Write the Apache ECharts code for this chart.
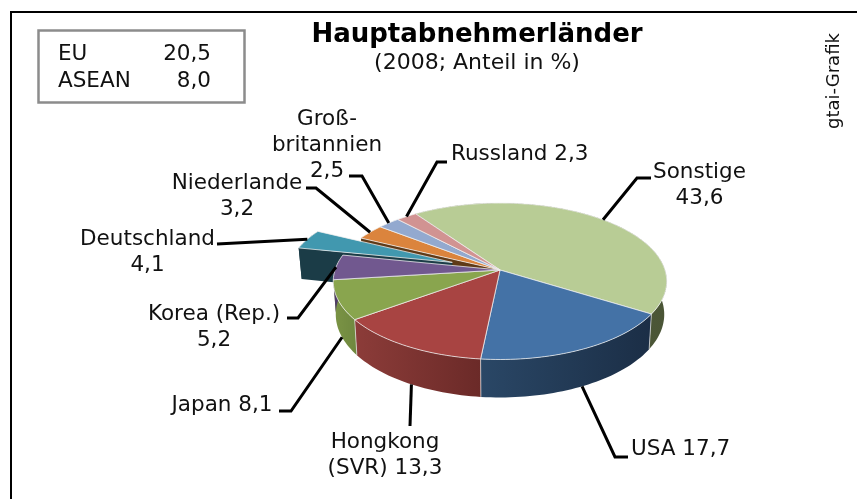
<!DOCTYPE html>
<html>
<head>
<meta charset="utf-8">
<title>Hauptabnehmerländer</title>
<script src="https://cdn.jsdelivr.net/npm/echarts@6/dist/echarts.min.js"></script>
<style>
  html, body { margin: 0; padding: 0; background: #fff; }
  #chart { width: 857px; height: 499px; }
</style>
</head>
<body>
<div id="chart"></div>
<script>
// data, clockwise from the top left
const categories = ['Sonstige', 'USA', 'Hongkong\n(SVR)', 'Japan', 'Korea (Rep.)', 'Deutschland', 'Niederlande', 'Groß-\nbritannien', 'Russland']
const shares = [43.6, 17.7, 13.3, 8.1, 5.2, 4.1, 3.2, 2.5, 2.3]
const blocNames = ['EU', 'ASEAN']
const blocShares = [20.5, 8.0]

// styles
const topColors = ['#b8cc95', '#4472a6', '#a84442', '#89a54e', '#71588f', '#4198af', '#db843d', '#93a9cf', '#d19392']
const wallColors = [
  ['#59643f', '#4a5536'], ['#2a4766', '#1b2e46'], ['#8c3c39', '#6b2a28'], ['#7b9445', '#6f883f'],
  ['#4f3d66', '#4f3d66'], ['#1b3c47', '#1b3c47'], ['#5f3a17', '#5f3a17'], ['#5b6b88', '#5b6b88'], ['#8a5f5e', '#8a5f5e']
]
const labelLayout = [
  { x: 699.5, y: 185, elbow: [637, 178], end: [651, 178], sep: '\n' },
  { x: 631, y: 449, align: 'left', elbow: [615, 457], end: [628, 457], sep: ' ', wall: true },
  { x: 385, y: 455, end: [410, 426], sep: ' ', wall: true, shift: -1.3 },
  { x: 222, y: 405, elbow: [291, 411], end: [279, 411], sep: ' ', wall: true, shift: -2 },
  { x: 214, y: 327, elbow: [298, 318], end: [287, 318], sep: '\n' },
  { x: 147.5, y: 252, end: [217, 244], sep: '\n' },
  { x: 237, y: 196, elbow: [316, 188], end: [306, 188], sep: '\n' },
  { x: 327, y: 145, elbow: [362, 176], end: [349, 176], sep: '\n' },
  { x: 451, y: 154, align: 'left', elbow: [437, 162], end: [447, 162], sep: ' ' }
]

const FONT = '"DejaVu Sans", Verdana, sans-serif'
const LABEL_FONT = '21.5px ' + FONT
const EXPLODED = 5
const EXPLODE_BY = 0.31

// perspective of the pie plane: unit disc -> screen
const CX = 500
const CY = 270
const A = 165
const B = 76.6
const K = 0.144
const DEPTH = 32.5
const START_DEG = -34.9

function project(u, v, bottom) {
  const d = 1 - K * v
  return bottom
    ? [CX + 0.985 * A * u / d, CY + B * v / d + DEPTH / d]
    : [CX + A * u / d, CY + B * v / d]
}

const total = shares.reduce((a, b) => a + b, 0)
let acc = START_DEG
const slices = shares.map(v => {
  const s = { from: acc, to: acc + v / total * 360 }
  acc = s.to
  return s
})

function offsetOf(i) {
  if (i !== EXPLODED) return [0, 0]
  const m = (slices[i].from + slices[i].to) / 2 * Math.PI / 180
  return [Math.sin(m) * EXPLODE_BY, -Math.cos(m) * EXPLODE_BY]
}

function rim(i, deg, bottom) {
  const o = offsetOf(i)
  const a = deg * Math.PI / 180
  return project(Math.sin(a) + o[0], -Math.cos(a) + o[1], bottom)
}

function apex(i, bottom) {
  const o = offsetOf(i)
  return project(o[0], o[1], bottom)
}

function arc(i, bottom) {
  const pts = []
  const { from, to } = slices[i]
  const n = Math.max(2, Math.ceil((to - from) / 1.5))
  for (let k = 0; k <= n; k++) pts.push(rim(i, from + (to - from) * k / n, bottom))
  return pts
}

function gradient(c) {
  return { type: 'linear', x: 0, y: 0, x2: 1, y2: 0, colorStops: [{ offset: 0, color: c[0] }, { offset: 1, color: c[1] }] }
}

function topFace(i) {
  return {
    type: 'polygon',
    shape: { points: [apex(i, false)].concat(arc(i, false)) },
    style: { fill: topColors[i], stroke: 'rgba(240,240,240,0.75)', lineWidth: 1 }
  }
}

function arcWall(i) {
  return {
    type: 'polygon',
    shape: { points: arc(i, false).concat(arc(i, true).reverse()) },
    style: { fill: gradient(wallColors[i]) }
  }
}

// radial face at the start of a slice, seen through the gap of the pulled out one
function radialWall(i, deg) {
  return {
    type: 'polygon',
    shape: { points: [apex(i, false), rim(i, deg, false), rim(i, deg, true), apex(i, true)] },
    style: { fill: wallColors[i][0] }
  }
}

function wallEdge(i) {
  return {
    type: 'polyline',
    shape: { points: [rim(i, slices[i].from, false), rim(i, slices[i].from, true)] },
    style: { stroke: 'rgba(230,230,230,0.7)', lineWidth: 1, fill: null }
  }
}

function layerSeries(z, draw) {
  return {
    type: 'custom',
    coordinateSystem: 'none',
    silent: true,
    z: z,
    data: shares.map((v, i) => [i, v]),
    renderItem: (params, api) => {
      const i = api.value(0)
      return { type: 'group', children: draw(i) }
    }
  }
}

function gapLayer(i) {
  return i === EXPLODED + 1 ? [radialWall(i, slices[i].from)] : []
}

function explodedLayer(i) {
  return i === EXPLODED ? [arcWall(i), radialWall(i, slices[i].from), topFace(i)] : []
}

function wallLayer(i) {
  if (i > 4) return []
  return i >= 1 && i <= 3 ? [arcWall(i), wallEdge(i)] : [arcWall(i)]
}

function topLayer(i) {
  return i === EXPLODED ? [] : [topFace(i)]
}

function leaderAndLabel(i) {
  const l = labelLayout[i]
  const mid = (slices[i].from + slices[i].to) / 2 + (l.shift || 0)
  const pts = [rim(i, mid, !!l.wall)]
  if (l.elbow) pts.push(l.elbow)
  pts.push(l.end)
  return [
    {
      type: 'polyline',
      shape: { points: pts },
      style: { stroke: '#000', lineWidth: 3, fill: null }
    },
    {
      type: 'text',
      x: l.x,
      y: l.y,
      style: {
        text: categories[i] + l.sep + shares[i].toFixed(1).replace('.', ','),
        font: LABEL_FONT,
        fill: '#111',
        align: l.align || 'center',
        verticalAlign: 'middle',
        lineHeight: 26
      }
    }
  ]
}

const chart = echarts.init(document.getElementById('chart'), null, { renderer: 'canvas' })
chart.setOption({
  animation: false,
  backgroundColor: '#fff',
  title: {
    text: 'Hauptabnehmerländer',
    subtext: '(2008; Anteil in %)',
    left: 472,
    top: 17,
    textAlign: 'center',
    itemGap: 4,
    textStyle: { fontFamily: FONT, fontSize: 26, fontWeight: 'bold', color: '#000' },
    subtextStyle: { fontFamily: FONT, fontSize: 22, color: '#111' }
  },
  graphic: [
    { type: 'polyline', shape: { points: [[11, 499], [11, 12], [857, 12]] }, style: { stroke: '#000', lineWidth: 2, fill: null } },
    { type: 'rect', shape: { x: 38.5, y: 30.5, width: 206, height: 72 }, style: { fill: '#fff', stroke: '#8c8c8c', lineWidth: 2.5 } },
    ...blocNames.map((name, i) => ({ type: 'text', x: 58, y: 54 + i * 27, style: { text: name, font: LABEL_FONT, fill: '#111', verticalAlign: 'middle' } })),
    ...blocShares.map((v, i) => ({ type: 'text', x: 211, y: 54 + i * 27, style: { text: v.toFixed(1).replace('.', ','), font: LABEL_FONT, fill: '#111', align: 'right', verticalAlign: 'middle' } })),
    { type: 'text', x: 834, y: 81, rotation: Math.PI / 2, style: { text: 'gtai-Grafik', font: '18px ' + FONT, fill: '#111', align: 'center', verticalAlign: 'middle' } }
  ],
  series: [
    layerSeries(1, gapLayer),
    layerSeries(2, explodedLayer),
    layerSeries(3, wallLayer),
    layerSeries(4, topLayer),
    layerSeries(5, leaderAndLabel)
  ]
})
</script>
</body>
</html>
